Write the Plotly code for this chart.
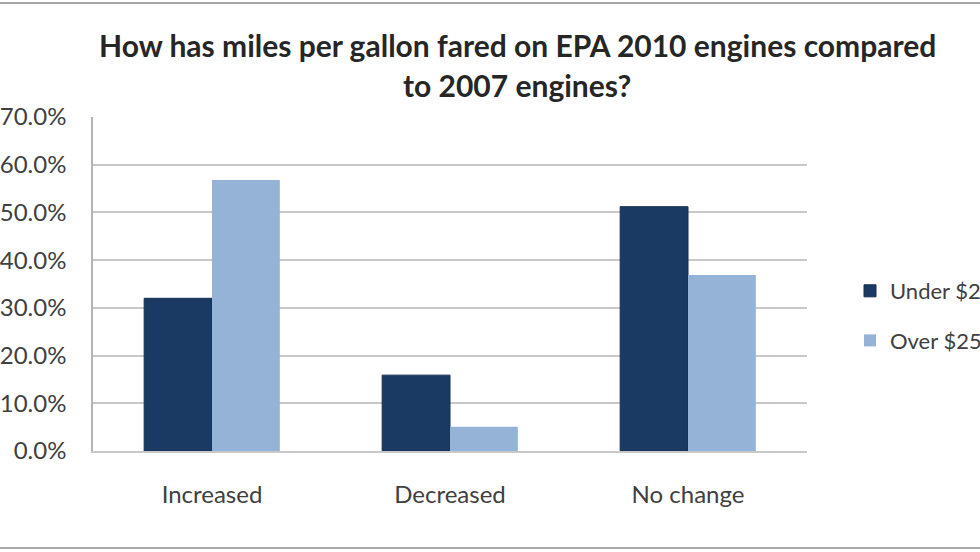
import plotly.graph_objects as go

categories = ["Increased", "Decreased", "No change"]
series_names = ["Under $250K", "Over $250K"]
under_vals = [0.320, 0.159, 0.512]
over_vals = [0.568, 0.051, 0.369]
tick_vals = [0.0, 0.1, 0.2, 0.3, 0.4, 0.5, 0.6, 0.7]
title_lines = ["How has miles per gallon fared on EPA 2010 engines compared",
               "to 2007 engines?"]

W, H = 980, 552
L, R, T, B = 93, 173, 117, 101
pw = W - L - R
ph = H - T - B

def px_x(x):
    return (x - L) / pw

def px_y(y):
    return (H - B - y) / ph

FONT = "Lato"

fig = go.Figure()
fig.add_trace(go.Bar(x=categories, y=under_vals, name=series_names[0],
                     marker=dict(color="#1B3A63", line=dict(color="#152E50", width=1)),
                     legendgroup="a"))
fig.add_trace(go.Bar(x=categories, y=over_vals, name=series_names[1],
                     marker=dict(color="#95B3D7", line=dict(width=0)),
                     legendgroup="b"))

fig.update_layout(
    width=W, height=H,
    margin=dict(l=L, r=R, t=T, b=B, autoexpand=False),
    paper_bgcolor="white", plot_bgcolor="white",
    barmode="group", bargap=0.43, bargroupgap=0,
    font=dict(family=FONT, color="#404040"),
    showlegend=True,
    legend=dict(x=px_x(850), y=px_y(270), xanchor="left", yanchor="top",
                font=dict(size=22, color="#404040", family=FONT),
                tracegroupgap=18, traceorder="grouped",
                bgcolor="rgba(0,0,0,0)"),
)

fig.update_yaxes(range=[0, 0.7], tickvals=tick_vals, tickformat=".1%",
                 showgrid=True, gridcolor="#C8C8C8", gridwidth=1.5,
                 showline=True, linecolor="#B4B4B4", linewidth=1.5,
                 zeroline=False, ticks="", ticklabelstandoff=20,
                 tickfont=dict(size=24, color="#404040", family=FONT),
                 fixedrange=True)
fig.update_xaxes(showline=True, linecolor="#C8C8C8", linewidth=1.5,
                 ticks="", ticklabelstandoff=21,
                 tickfont=dict(size=24, color="#404040", family=FONT),
                 fixedrange=True)

# title lines
fig.add_annotation(text="<b>" + title_lines[0] + "</b>", xref="paper", yref="paper",
                   x=px_x(517), y=px_y(45), xanchor="center", yanchor="middle",
                   showarrow=False, font=dict(size=30, color="#262626", family=FONT))
fig.add_annotation(text="<b>" + title_lines[1] + "</b>", xref="paper", yref="paper",
                   x=px_x(517), y=px_y(85), xanchor="center", yanchor="middle",
                   showarrow=False, font=dict(size=30, color="#262626", family=FONT))

# outer frame
fig.add_shape(type="rect", xref="paper", yref="paper",
              x0=px_x(-10), x1=px_x(990), y0=px_y(548), y1=px_y(3),
              line=dict(color="#A8A8A8", width=2), layer="below")

fig.write_html("out.html", config={"displayModeBar": False},
               post_script="document.body.style.margin='0';document.body.style.overflow='hidden';")
